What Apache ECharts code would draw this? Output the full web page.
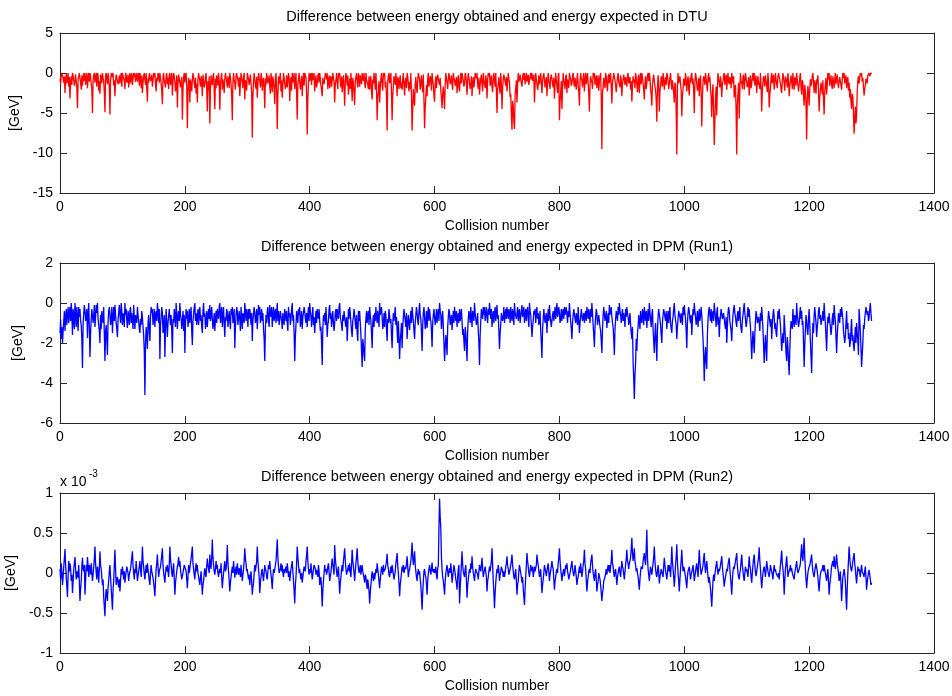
<!DOCTYPE html>
<html><head><meta charset="utf-8">
<script src="https://cdn.jsdelivr.net/npm/echarts@6/dist/echarts.min.js"></script>
<style>html,body{margin:0;padding:0;background:#fff}#c{width:952px;height:696px}</style>
</head><body><div id="c"></div>
<script>
// one value per collision number (0..1300)
const STEP = 1;
const titles = [
  'Difference between energy obtained and energy expected in DTU',
  'Difference between energy obtained and energy expected in DPM (Run1)',
  'Difference between energy obtained and energy expected in DPM (Run2)'
];
const xTicks = {min: 0, max: 1400, interval: 200};
const yTicks = [
  {min: -15, max: 5, interval: 5},
  {min: -6, max: 2, interval: 2},
  {min: -1, max: 1, interval: 0.5}
];
// DTU [GeV]
const dtu = [
-0.7,-1.4,-0.3,0,0,-0.6,-1.2,-0.4,-2.5,-1.0,0,-1.3,-0.8,0,-1.7,-0.5,-3.2,-1.1,-0.4,-1.5,0,-0.3,-0.9,-1.6,-1.1,-0.2,0,-1.9,-4.4,-0.8,-0.6,0,0,-1.2,-2.1,-0.3,-1.6,-0.7,0,-1.0,
0,-1.5,-0.8,0,-1.9,-0.6,0,-1.1,0,-0.4,-1.4,-2.0,-5.0,-0.9,-0.3,0,-1.2,-0.5,0,-1.7,0,-0.3,-2.2,-1.0,-2.6,-0.2,-0.5,-1.3,0,-0.6,-1.0,-2.4,-4.9,-0.3,0,-0.8,-1.4,0,-0.7,-1.8,
-5.2,-1.0,0,-0.5,-0.7,0,-1.6,-0.9,-2.9,-1.2,-0.2,0,0,-1.4,-1.1,-0.3,-1.3,-0.6,0,-1.7,0,-0.4,-0.6,-1.0,-2.0,0,-0.3,-1.2,-0.9,-0.2,-1.8,-0.7,0,-1.3,-0.4,0,-1.5,-0.8,0,-0.5,
0,-1.1,-0.5,0,-1.1,-0.4,0,-1.6,0,-0.7,-1.9,-0.3,-2.5,-1.2,-0.4,0,-0.8,-1.5,0,-1.9,-3.6,-0.6,-1.2,0,0,-1.0,-0.7,-0.2,-1.7,-0.9,0,-0.5,0,-1.4,-2.3,-0.6,-1.0,0,-0.3,-1.2,
0,-0.7,-1.3,-2.2,-3.9,-0.5,0,-1.0,-0.9,-1.8,-0.4,0,-1.4,-0.6,-2.0,-0.3,0,-1.5,-0.8,0,-2.8,-1.1,0,-0.4,-1.1,-2.3,-1.6,-0.3,-4.3,-1.2,-0.2,0,0,-1.8,-1.0,-0.5,-5.8,-2.1,-0.5,0,
-1.2,-0.3,0,-1.6,-6.9,-2.4,-0.6,-1.1,-3.7,-0.8,-1.5,-2.3,-0.8,0,0,-1.2,-1.9,-0.6,-2.6,-1.3,-3.7,-0.9,0,-0.5,-1.0,-1.7,-0.4,-0.9,-2.9,-0.2,-1.1,-1.8,-1.4,-0.5,0,-2.0,-4.8,-1.0,-2.2,-0.4,
-6.3,-2.0,-0.3,-1.2,-1.5,-0.4,0,-2.2,-4.5,-0.7,-1.9,-0.3,-0.9,-1.6,0,-1.0,-4.6,-1.4,-0.6,0,-2.1,-0.8,-1.3,-2.5,-0.7,0,0,-1.1,-1.8,-0.4,-0.9,-1.9,0,-0.6,-1.4,-2.8,-5.9,-1.2,0,-0.9,
-1.3,-2.1,-0.4,0,0,-1.0,-1.7,-0.5,-2.9,-1.3,0,-0.6,-1.1,-1.9,-0.5,0,-3.3,-0.9,-1.2,-2.2,0,-0.4,-0.8,-1.5,-1.6,-0.2,0,-2.4,-8.1,-3.0,-1.0,0,-0.8,-1.6,-2.0,-0.5,-3.1,-1.2,0,-0.7,
-1.0,-1.8,0,-0.5,-2.2,-1.0,-0.6,-2.0,-4.4,-0.7,-1.5,0,0,-1.3,-0.9,-0.3,-1.7,-2.6,0,-1.0,-2.4,-0.4,-1.1,-1.9,-3.9,-0.8,0,-2.1,-7.0,-2.8,-0.4,-1.4,-1.2,0,-2.3,-0.9,-3.1,-1.6,0,-0.6,
-0.7,-2.0,-1.4,-0.3,-1.8,-1.0,0,-0.6,-3.5,-1.3,-0.5,-2.2,0,-0.8,-1.2,0,-2.0,-1.1,0,-2.6,-5.8,-1.4,-0.8,0,-1.1,-2.1,-1.9,-0.4,-2.9,-1.0,0,-1.6,0,-0.3,-0.6,-2.4,-7.7,-3.2,-1.3,0,
-1.0,-0.4,0,-1.5,0,-0.9,-0.7,0,-2.3,-1.0,-0.3,-1.8,-1.3,-0.4,0,-1.2,0,-0.7,-1.6,-2.2,-2.9,-0.6,-0.5,-1.4,-1.5,0,0,-0.8,0,-2.0,-1.1,-0.3,-1.9,-0.8,-0.4,-1.7,-0.8,0,0,-1.2,
-3.7,-1.4,-0.9,0,-1.2,-2.0,0,-0.5,0,-1.1,-1.8,-0.4,-2.4,-1.2,-0.3,-1.9,-4.1,-1.0,0,-0.6,-1.6,-0.3,-2.7,-1.5,-0.7,-2.0,0,-1.3,-3.5,-0.6,-1.2,-2.5,-4.0,-1.1,-0.5,0,-1.1,-1.8,0,-0.6,
-1.7,-0.3,-0.5,-1.4,0,-0.6,-1.0,0,-1.2,-1.9,0,-0.8,-0.8,-1.5,-2.0,-0.4,-2.1,-1.0,-0.4,-2.4,-3.3,-0.8,-1.3,0,-0.9,-2.1,0,-1.6,-5.9,-3.0,-2.4,-1.0,-3.7,-1.8,-0.7,0,-1.4,-2.2,0,-0.5,
0,-1.8,-1.1,-3.0,-7.2,-1.2,-0.3,0,-1.3,-0.6,0,-2.5,-5.9,-2.8,-1.6,-0.4,-0.7,-1.5,0,-1.1,-2.9,-0.5,-0.8,-2.0,-1.0,-0.3,-1.9,-1.2,-2.1,-0.7,0,-1.5,-2.8,-1.0,-0.6,-1.9,0,-0.4,-1.4,-2.3,
-1.1,-2.0,0,-2.8,-7.2,-4.5,-2.0,-3.2,-4.1,-1.4,-0.5,-1.9,-2.5,-0.9,0,-0.4,-0.8,-2.1,-1.3,-0.3,-1.6,-2.4,-0.2,-3.4,-6.9,-4.2,-3.0,-1.5,-2.9,-0.8,0,-1.7,-1.2,-0.4,-0.7,-2.2,0,-0.9,-1.5,-2.8,
-3.6,-1.3,-0.4,-1.9,-0.7,-0.2,0,-1.2,-1.5,-0.6,-2.2,-3.1,-4.4,-2.6,-1.7,-3.0,-4.5,-1.4,0,-0.7,-1.2,-2.0,-0.6,0,0,-1.4,-1.0,-0.3,-1.5,-2.1,0,-0.6,-0.9,-1.6,-1.8,-0.5,-2.5,-1.1,-0.3,-1.8,
-2.3,-0.8,0,-1.3,0,-0.5,-0.9,-1.7,-1.4,0,-0.3,-1.2,-2.7,-1.0,0,-0.6,-0.8,-2.0,-1.5,-0.4,-2.9,-1.3,-0.5,-1.8,-1.1,0,0,-0.7,0,-1.4,-2.0,-0.6,-2.7,-1.5,-0.7,-0.2,-1.5,-2.3,0,-0.9,
-0.9,-1.9,-0.3,-1.1,-3.2,-0.8,0,-0.4,0,-1.6,-1.2,-0.3,-1.7,-2.4,-0.6,0,-1.0,-1.7,0,-2.2,-5.0,-2.0,-1.4,-0.5,-1.8,-2.6,0,-1.3,-4.5,-1.9,-0.8,-0.2,0,-1.1,-1.6,-0.5,-2.3,-1.2,0,-0.7,
-1.2,-3.0,-2.6,-5.2,-7.1,-3.5,-4.0,-6.2,-7.0,-2.8,-1.9,-0.9,-3.7,-1.5,0,-1.1,-0.8,-0.2,-0.4,-1.3,-1.7,-0.5,0,-0.9,0,-1.4,-0.9,0,-1.1,-0.6,-0.2,-1.5,-1.3,-0.4,0,-0.8,0,-1.0,-0.6,-0.2,
-3.7,-1.6,0,-0.7,-0.9,-2.1,-1.5,-0.3,-1.4,-0.8,0,-1.3,-2.5,-1.0,-0.4,0,0,-1.8,-1.1,-0.5,-2.9,-1.2,0,-0.8,-1.0,-2.0,-0.6,-0.2,-0.7,-1.4,-1.8,-0.6,-3.2,-1.5,0,-0.9,-1.6,-2.5,-0.3,0,
-5.9,-3.6,-2.4,-1.0,-4.5,-1.8,0,-0.9,-1.1,-2.0,-0.5,-0.2,-2.5,-0.8,-1.2,-1.9,0,-0.5,-0.8,-1.6,-1.3,-0.3,0,-1.2,-1.7,-0.6,-0.4,-2.1,-0.8,0,-1.5,-2.3,-4.1,-1.1,0,-0.7,-1.0,-1.8,-0.6,0,
-2.3,-1.0,0,-1.4,-0.7,0,-1.3,-2.6,-4.8,-1.5,-0.4,-0.9,-1.2,-2.0,0,-0.6,0,-1.5,-0.9,-0.3,-1.9,-1.1,-0.3,-2.2,-1.0,-0.4,0,-3.0,-9.5,-2.5,-1.7,-0.6,-0.8,-1.9,0,-0.4,-1.6,-2.3,-0.5,-0.1,
-1.3,-0.5,0,-1.7,-3.8,-1.2,-0.7,0,0,-0.9,-1.6,-2.4,-1.4,-0.5,0,-1.1,-0.9,-1.8,-0.3,-0.8,-2.9,-1.4,-1.2,-0.2,0,-1.5,-0.5,-0.9,-1.7,-0.4,0,-1.3,-1.1,-0.5,-2.1,-1.0,-3.6,-1.6,-0.4,-1.2,
-0.8,-1.9,0,-0.6,-1.5,-2.4,-0.6,-0.2,-2.5,-1.0,0,-1.4,0,-0.5,-1.3,-2.1,-3.3,-1.2,-0.4,-2.0,-1.2,-0.3,0,-1.0,0,-0.6,-1.9,-2.8,-4.1,-1.5,-0.7,-0.2,-1.0,-1.7,-2.2,-3.3,-6.1,-2.0,-0.3,-1.1,
-4.8,-2.3,-1.6,-0.4,-0.9,-1.7,0,-0.8,-2.1,-1.1,-0.5,-1.5,0,-0.3,-1.0,-2.0,-1.4,-0.6,0,-1.2,-2.1,-0.9,-0.8,-2.4,-3.7,-1.2,-1.5,-4.6,-10.2,-2.0,0,-1.3,-1.2,-0.4,-0.6,-2.2,-5.4,-2.9,-2.0,-0.7,
-0.8,-1.6,0,-0.9,-2.3,-1.1,-0.4,-1.9,-2.8,-0.6,-1.2,-0.3,0,-1.4,-0.7,-2.1,-5.0,-1.3,0,-0.5,-1.3,-2.2,-1.8,-0.6,-2.9,-1.0,-0.3,-2.5,-6.7,-3.1,-1.1,-0.4,-0.7,-1.5,0,-0.8,-1.5,-2.3,-0.5,0,
-1.1,-0.5,-2.0,-3.1,-5.5,-2.6,-1.4,-4.8,-9.0,-5.9,-3.2,-1.7,-5.3,-2.0,0,-0.7,-0.9,-1.8,-0.4,-1.2,-3.0,-1.4,-1.0,-0.3,0,-1.5,-0.6,-0.2,-2.1,-0.9,0,-1.1,-1.4,-0.5,-0.8,-1.9,0,-0.7,-1.3,-0.4,
-3.1,-1.8,-1.5,-4.7,-10.2,-3.9,-2.6,-1.2,-5.7,-2.2,0,-1.3,-1.0,-2.0,-0.5,-0.2,-2.1,-1.1,0,-0.6,-0.7,-1.8,-1.4,-0.5,-2.8,-1.3,-0.3,-1.9,-1.3,-0.6,0,-1.0,0,-1.6,-0.9,-0.3,-2.5,-1.2,-0.4,-1.5,
-1.2,-2.0,0,-1.6,-4.8,-2.2,-1.1,-0.4,-0.8,-1.7,-0.3,-1.0,-1.6,-2.4,0,-1.1,-4.3,-2.7,-1.9,-0.6,0,-1.3,-0.7,-0.2,-2.1,-1.4,0,-0.8,-1.0,-1.9,-0.5,0,0,-0.9,-1.3,-2.1,-2.5,-1.0,0,-0.6,
-1.3,-2.2,-0.4,-1.1,-0.7,-1.8,0,-0.9,-2.9,-1.6,-1.0,-0.3,-1.1,-2.0,0,-1.2,-2.1,-0.5,-0.6,-1.6,0,-0.8,-1.5,-2.3,-1.4,-0.6,0,-1.8,-2.7,-0.9,-1.2,-2.8,-4.1,-1.5,-2.3,-3.8,-8.3,-3.4,-1.6,-2.5,
-4.1,-2.0,-0.8,-1.6,-1.2,-0.4,0,-1.3,-2.5,-0.9,-1.7,-2.6,-0.8,-1.4,-0.3,-2.2,-4.8,-3.0,-2.1,-1.2,-1.9,-2.7,-0.9,-3.3,-5.2,-2.4,-1.4,-0.6,-2.7,-1.5,0,-0.8,0,-1.6,-1.0,-0.3,-1.5,-2.0,-0.4,-1.1,
-1.9,-0.8,0,-1.4,-0.7,-0.2,-1.2,-1.9,-1.1,-0.5,-0.3,-1.5,-2.1,-0.9,0,-0.6,0,-1.3,-0.8,-0.3,-1.9,-1.0,-0.5,-2.2,-1.2,-3.1,-2.0,-3.6,-4.5,-2.6,-3.0,-5.1,-7.6,-5.8,-4.2,-6.3,-5.3,-2.4,-1.0,-0.4,
-1.3,-0.6,0,-0.4,0,-1.1,-0.6,-1.7,-2.8,-2.0,-1.5,-0.7,-0.9,-1.3,-0.3,-0.1,0,-0.4,-0.2,0,-0.1
];
// DPM Run1 [GeV]
const dpm1 = [
-1.5,-0.8,-1.8,-1.2,-2.0,-1.4,-0.9,-0.4,-1.4,-0.7,-0.3,-1.1,-0.6,-0.2,-1.0,-0.5,-0.2,-0.9,0,-0.6,-1.6,-0.3,-0.7,-1.3,0,-0.5,-1.2,-0.2,-0.8,-1.4,-0.2,-0.7,-0.3,-0.9,-1.1,-1.8,-3.25,-1.0,-0.5,-0.1,
-0.4,-0.9,-1.0,-0.3,-1.75,-0.6,0,-1.2,-2.7,-1.5,-0.8,-0.3,-0.2,-1.0,-0.6,-0.1,-1.2,-0.7,-0.1,-0.5,0,-0.8,-0.9,-1.4,-2.0,-0.6,-1.3,-0.4,-0.5,-1.0,-0.2,-1.6,-2.9,-1.4,-1.1,-1.9,-2.6,-0.9,-0.4,-0.2,
-0.3,-1.1,-0.8,-0.2,-1.5,-0.7,-0.2,-0.9,-0.1,-0.6,-1.0,-1.3,-1.7,-0.8,-0.5,-0.1,-0.6,-1.0,0,-0.4,-1.1,-0.5,-0.7,-1.2,0,-0.6,-0.3,-0.9,-1.25,-0.4,-0.6,-1.1,-0.4,-0.2,-1.0,-0.5,-0.9,-1.3,-0.1,-0.7,
-1.3,-0.6,-0.5,-1.0,-0.2,-0.6,-0.9,-1.3,-1.5,-0.8,-1.1,-0.4,-0.7,-1.2,-1.6,-2.4,-4.6,-2.0,-1.2,-1.7,-2.3,-1.0,-0.6,-1.4,-1.9,-0.7,-0.2,-0.5,-0.3,-1.1,-0.8,-0.3,-1.2,-0.6,-0.4,-0.9,0,-0.4,-1.0,-0.3,
-2.8,-1.1,-0.7,-0.2,-0.5,-1.5,-1.2,-0.6,-2.7,-1.3,-0.3,-0.9,-1.7,-1.0,-0.9,-0.3,-0.2,-1.1,-0.6,-1.4,-2.5,-0.8,-1.0,-0.3,-0.6,-1.2,0,-0.5,-1.3,-0.7,-0.4,-0.9,0,-0.6,-0.8,-1.3,-0.9,-0.4,-1.4,-0.6,
-2.5,-1.0,-0.3,-0.8,-0.4,-1.2,-0.9,-0.3,-1.0,-0.6,-0.2,-1.4,-2.1,-0.9,-0.8,-0.2,0,-0.9,-0.5,-1.1,-0.7,-0.3,-1.1,-0.5,-0.2,-0.9,-0.6,-1.2,-1.5,-0.4,0,-0.7,-0.5,-1.3,-1.0,-0.4,-1.2,-0.7,-0.3,-0.8,
-0.1,-0.9,-0.6,-0.2,-0.8,-1.3,-1.0,-0.5,-1.4,-0.8,-0.4,-1.0,-0.3,-0.6,-0.8,-0.2,0,-1.0,-0.5,-0.2,-1.2,-0.6,-0.2,-1.1,-1.7,-0.7,-0.9,-0.3,-0.5,-1.2,-1.1,-0.4,-0.9,-1.3,-0.3,-0.6,-0.2,-1.0,-0.7,-0.3,
-2.25,-1.2,-0.6,-0.2,-0.4,-1.1,-1.0,-0.4,-0.8,-1.4,-0.2,-0.7,-1.3,-0.5,-0.7,-1.0,0,-0.4,-0.9,-0.3,-0.6,-1.2,-0.3,-0.8,-0.3,-0.6,-1.1,-0.5,-1.9,-0.9,-0.5,-0.2,-0.5,-1.0,-0.8,-0.3,-1.3,-0.7,-0.1,-0.6,
-0.2,-1.0,-0.7,-0.3,-0.9,-0.5,-1.3,-1.8,-2.9,-1.3,-0.6,-1.0,-0.4,-0.2,-0.9,-1.2,-0.1,-0.7,-0.5,-0.2,-1.2,-0.6,-0.2,-0.9,-0.6,-0.3,-1.0,-0.5,0,-0.9,-0.4,-1.1,-0.8,-0.4,-0.3,-0.9,-1.3,-0.5,-0.8,-1.1,
-0.3,-0.6,-0.9,-0.4,-1.0,-1.4,-0.2,-0.7,-0.5,-1.1,-0.8,-0.3,0,-0.9,-0.6,-1.5,-2.9,-1.7,-1.1,-0.4,-0.7,-1.0,-0.3,-0.6,-0.2,-1.2,-0.9,-0.4,-1.3,-0.7,-0.5,-0.2,-0.4,-0.8,-1.0,-0.5,-1.2,-0.6,-0.2,-0.9,
0,-0.4,-0.7,-1.2,-0.6,-0.2,-1.1,-0.7,-1.5,-0.9,-0.4,-1.0,-0.3,-0.6,-0.8,-0.3,-0.9,-1.4,-1.2,-2.0,-3.1,-1.3,-0.6,-0.9,-0.5,-1.1,-0.2,-0.8,-1.7,-1.1,-0.9,-0.3,-0.1,-0.8,-0.5,-1.2,-0.8,-0.4,-1.0,-1.4,
-1.0,-0.5,-0.3,-0.9,-0.3,-0.6,-0.8,-0.2,0,-0.7,-0.6,-1.1,-1.4,-0.6,-0.9,-0.4,-0.5,-1.0,-1.2,-0.7,-1.9,-1.2,-0.3,-0.8,-0.2,-0.5,-1.0,-1.4,-1.7,-0.9,-0.7,-0.3,-0.6,-1.0,-1.3,-0.6,-1.5,-1.9,-0.4,-0.9,
-0.4,-1.0,-1.6,-2.4,-3.2,-1.8,-2.1,-2.6,-2.9,-1.3,-0.8,-0.4,-1.0,-0.6,-0.4,-1.1,-0.2,-0.6,-0.9,-1.5,-2.25,-1.0,-0.6,-1.2,-0.5,-0.9,-0.2,-0.7,-1.0,-0.4,-0.7,-1.2,0,-0.6,-0.5,-0.2,-0.7,-1.3,-1.1,-0.5,
-1.2,-0.4,-0.6,-1.3,-1.9,-0.8,-1.0,-0.3,-0.3,-1.0,-0.8,-1.6,-2.25,-1.1,-0.5,-0.9,-0.6,-0.2,-1.1,-0.7,-1.4,-2.0,-0.9,-1.7,-2.8,-1.9,-1.5,-1.0,-2.25,-1.2,-0.7,-0.3,-0.4,-0.9,-1.2,-0.5,-1.8,-1.1,-0.6,-1.0,
-1.35,-0.8,-0.4,-1.0,-0.2,-0.6,-0.9,-1.4,-1.8,-1.0,-0.6,-0.2,-0.5,-0.9,-1.1,-0.4,0,-0.6,-0.8,-1.5,-2.4,-1.1,-0.5,-0.2,-0.7,-1.3,-1.0,-0.4,-1.25,-0.6,-0.2,-0.9,-0.3,-0.7,-0.9,-1.4,-2.2,-1.0,-0.6,-0.3,
-0.4,-1.1,-0.8,-0.3,-1.0,-0.5,-0.3,-0.9,0,-0.4,-0.6,-1.3,-0.8,-0.4,-1.2,-2.0,-2.9,-2.2,-1.6,-2.0,-2.6,-1.2,-0.7,-0.3,-0.5,-1.1,-1.0,-0.6,-1.35,-0.8,-0.4,-1.0,-0.2,-0.6,-0.9,-0.4,-1.2,-0.7,-0.5,-1.0,
-0.3,-0.9,-0.7,-0.3,-0.9,-1.6,-1.3,-1.9,-2.4,-1.2,-1.5,-2.2,-2.9,-1.4,-0.8,-0.4,-0.6,-1.0,-0.2,-0.7,-1.2,-0.4,-0.5,-0.9,0,-0.5,-0.6,-1.1,-0.9,-0.5,-1.4,-2.0,-3.1,-1.6,-0.9,-0.3,-0.4,-0.8,-0.2,-0.6,
-0.2,-0.9,-0.6,-0.2,-0.7,-1.0,-0.3,-0.6,0,-0.4,-0.8,-0.3,-1.2,-0.7,-0.4,-1.0,-0.5,-0.2,-0.9,-0.5,-0.1,-0.8,-0.6,-1.4,-2.3,-1.5,-1.1,-0.5,-0.4,-0.9,-0.7,-0.2,-1.0,-0.6,-0.3,-0.8,-0.2,-0.5,-0.8,-0.3,
-0.5,-1.0,-0.2,-0.6,-0.9,-0.3,-0.6,-1.1,0,-0.5,-0.4,-0.8,-0.7,-0.2,-0.9,-0.5,-0.3,-1.0,-0.7,-0.4,-0.1,-0.7,-0.5,-0.2,-1.0,-0.6,-0.3,-0.9,-0.4,-0.2,-0.8,-1.2,0,-0.4,-0.6,-1.1,-1.7,-1.2,-0.9,-0.4,
-0.6,-0.3,-1.0,-0.5,-0.2,-0.8,-0.5,-1.1,-0.9,-0.4,-1.4,-2.0,-2.75,-1.3,-0.8,-0.3,-0.4,-1.0,-0.9,-0.5,-1.5,-0.8,-0.3,-0.9,-0.1,-0.6,-0.7,-1.2,-1.2,-0.6,-0.4,-0.9,-0.6,-0.2,-0.8,-0.4,0,-0.7,-0.5,-0.2,
-0.5,-1.0,-0.8,-0.3,-0.9,-0.5,-0.3,-0.8,-0.2,-0.6,-0.7,-0.2,-0.6,-1.0,-0.4,-0.7,0,-0.5,-0.9,-1.3,-1.8,-1.0,-0.6,-0.3,-0.4,-0.8,-1.0,-0.5,-0.8,-1.1,-0.2,-0.8,-1.5,-1.0,-0.7,-0.3,-0.3,-0.9,-0.9,-0.5,
-1.0,-0.6,-0.4,-0.9,-0.2,-0.5,-0.8,-0.3,-0.6,-1.0,-0.3,-0.7,0,-0.5,-1.1,-1.6,-2.2,-1.2,-0.7,-0.3,-0.5,-1.1,-1.0,-0.6,-0.9,-1.2,-1.4,-1.9,-2.5,-1.3,-0.6,-0.2,-0.3,-0.9,-0.8,-0.4,-1.25,-0.8,-0.5,-1.0,
-0.1,-0.6,-0.5,-0.2,-0.7,-1.0,-1.2,-1.8,-2.6,-1.3,-0.8,-0.4,-0.4,-0.9,-0.2,-0.6,0,-0.4,-0.6,-1.0,-0.6,-0.3,-0.9,-0.5,-0.8,-1.2,-0.3,-0.7,-0.2,-0.5,-0.7,-1.1,-0.9,-0.5,-1.1,-1.5,-1.8,-1.2,-2.9,-3.8,
-4.8,-3.6,-3.0,-1.8,-2.4,-1.5,-1.2,-0.6,-0.9,-1.3,-0.4,-0.8,-1.0,-0.3,-0.6,-1.1,-0.2,-0.6,-0.9,-0.4,-1.25,-0.7,-0.3,-0.9,0,-0.5,-0.8,-1.2,-0.6,-0.3,-1.3,-1.9,-2.5,-1.6,-1.0,-2.0,-2.9,-1.4,-0.7,-0.3,
-0.4,-0.8,-1.1,-1.6,-2.0,-1.0,-0.6,-0.3,-0.2,-0.7,-0.9,-0.4,-1.3,-0.8,-0.4,-1.0,-0.5,-0.2,-1.0,-1.3,-1.5,-0.9,-0.7,-0.3,0,-0.6,-0.5,-1.1,-1.8,-1.2,-0.8,-0.4,-0.3,-0.7,-1.0,-0.5,-0.7,-1.1,-0.2,-0.6,
-0.1,-0.5,-0.8,-1.4,-2.25,-1.0,-0.5,-0.2,-0.4,-0.8,-1.0,-0.6,-1.6,-0.9,-0.3,-0.6,0,-0.4,-0.7,-1.1,-0.8,-0.4,-1.2,-0.7,-0.3,-0.9,-0.6,-0.2,-0.6,-1.2,-1.8,-2.6,-3.9,-2.8,-2.2,-2.9,-3.3,-1.6,-0.8,-0.4,
-0.2,-0.6,-0.9,-0.3,-1.0,-0.6,-0.4,-0.9,0,-0.4,-0.7,-1.2,-0.5,-0.2,-1.1,-0.7,-1.7,-1.0,-0.6,-0.3,-0.3,-0.8,-0.9,-0.5,-0.8,-1.1,-1.3,-0.7,-2.0,-1.2,-0.5,-0.2,-0.4,-0.9,-1.0,-1.4,-1.9,-1.1,-0.6,-0.3,
-0.1,-0.5,-0.7,-1.0,-1.2,-0.6,-0.4,-0.9,-0.5,-0.2,-1.0,-1.3,-1.5,-0.9,-0.6,-0.3,0,-0.5,-0.8,-1.2,-1.0,-0.6,-0.2,-0.7,-0.3,-0.8,-1.2,-1.9,-2.8,-2.0,-1.4,-1.9,-2.5,-1.6,-0.9,-0.4,-0.6,-1.0,-1.1,-0.7,
-1.0,-1.4,-0.5,-0.9,-0.2,-0.7,-1.3,-2.1,-3.0,-2.2,-1.6,-2.3,-2.9,-1.5,-0.9,-0.4,-0.5,-0.9,-1.2,-0.8,-1.8,-1.1,-0.6,-0.3,-0.7,-1.3,-1.0,-1.5,-1.7,-1.0,-0.4,-0.8,-0.3,-0.7,-1.1,-1.7,-2.4,-1.9,-1.5,-2.0,
-0.6,-1.2,-1.8,-2.5,-2.9,-1.7,-2.2,-3.0,-3.6,-2.4,-1.4,-0.9,-0.8,-1.3,-0.3,-0.8,-1.2,-0.6,-0.7,-1.1,0,-0.6,-0.5,-1.2,-1.0,-0.5,-0.2,-0.8,-0.4,-1.1,-0.9,-2.0,-3.2,-2.1,-1.3,-0.6,-0.9,-1.4,-1.6,-0.8,
-0.3,-1.0,-1.9,-2.7,-3.5,-2.0,-1.0,-1.5,-0.6,-0.2,-0.3,-1.0,-1.7,-1.2,-0.9,-0.4,-0.2,-0.8,-0.6,-1.1,-1.2,-0.7,-0.4,-0.9,0,-0.6,-1.0,-1.7,-2.4,-1.3,-0.7,-1.0,-0.5,-0.9,-1.2,-1.6,-1.3,-0.8,-0.5,-1.1,
-0.1,-0.6,-0.9,-1.7,-2.5,-1.6,-1.1,-0.5,-0.6,-1.0,-0.3,-0.7,-0.2,-0.5,-0.8,-1.4,-1.3,-2.0,-1.7,-1.0,-0.4,-1.3,-1.0,-1.8,-1.5,-2.2,-2.0,-1.3,-0.8,-1.9,-1.6,-2.1,-2.4,-1.8,-1.2,-2.0,-1.0,-1.5,-1.9,-2.6,
-0.3,-0.8,-1.4,-2.2,-3.2,-2.6,-2.0,-1.1,-1.3,-0.8,-0.5,-0.2,-0.2,-0.6,-0.4,-0.9,-0.75,-0.3,0,-0.5,-0.9
];
// DPM Run2 [GeV x 10^-3]
const dpm2 = [
0.05,-0.08,0.12,0.0,-0.15,-0.05,0.08,0.18,0.3,0.1,-0.05,-0.18,-0.3,-0.02,0.15,0.02,0.12,0.05,-0.1,-0.02,-0.25,-0.1,0.05,0.12,0.2,0.05,-0.08,0.02,0.02,-0.06,0.1,-0.12,-0.35,-0.2,-0.1,0.08,0.19,0.05,0.02,0.1,
-0.27,-0.1,0.1,0.02,0.2,0.08,-0.05,0.1,0.05,-0.02,0.12,0.0,-0.1,-0.02,0.08,0.18,0.33,0.12,0.0,-0.08,0.08,0.02,-0.12,0.05,0.27,0.1,0.05,-0.05,-0.15,-0.08,-0.3,-0.42,-0.54,-0.3,-0.2,-0.28,-0.35,-0.18,-0.1,0.02,
0.1,-0.05,-0.2,-0.32,-0.46,-0.2,-0.1,0.1,0.29,0.05,-0.15,-0.08,-0.05,-0.12,-0.18,-0.08,-0.23,-0.1,0.05,-0.02,0.08,0.0,-0.08,0.02,-0.12,-0.05,0.02,0.08,0.1,0.0,-0.1,-0.02,-0.02,0.05,0.12,0.2,0.27,0.1,0.0,-0.08,
0.05,0.0,0.15,0.02,-0.1,-0.04,0.02,0.08,0.15,0.05,-0.05,0.12,0.33,0.15,0.08,-0.02,-0.08,0.02,0.1,0.0,0.12,0.05,-0.02,-0.1,-0.15,0.0,0.1,0.02,0.0,-0.06,-0.12,-0.2,-0.29,-0.1,0.05,0.12,0.23,0.08,-0.05,0.02,
0.02,0.08,0.15,0.22,0.31,0.1,0.0,-0.06,-0.12,0.0,0.08,0.02,0.1,0.02,-0.05,0.1,0.33,0.18,0.1,0.0,-0.05,0.05,0.12,-0.08,-0.27,-0.12,-0.05,0.02,0.08,0.12,0.2,0.08,0.15,0.05,-0.02,-0.08,-0.1,0.0,0.05,0.1,
0.12,0.05,0.02,-0.08,-0.19,-0.05,0.1,0.0,0.05,0.12,0.18,0.25,0.33,0.12,0.05,-0.02,-0.08,0.05,0.12,0.02,0.1,0.0,-0.05,-0.1,-0.15,-0.05,0.02,-0.12,-0.27,-0.15,-0.1,0.0,0.06,-0.02,-0.05,0.08,0.18,0.1,0.08,0.0,
0.23,0.1,0.05,0.2,0.42,0.2,0.1,0.02,-0.02,0.05,0.15,0.05,0.1,0.0,-0.05,0.02,0.05,0.0,0.12,-0.05,-0.19,-0.08,0.0,0.08,0.15,0.02,0.05,0.15,0.35,0.12,0.02,-0.1,-0.23,-0.12,-0.05,0.02,0.08,0.0,0.15,0.05,
-0.06,0.02,0.08,-0.02,0.12,0.05,-0.02,0.06,0.02,-0.05,0.1,0.0,-0.1,-0.02,0.05,0.15,0.31,0.18,0.12,0.02,0.05,-0.02,-0.08,-0.02,-0.15,-0.05,0.02,-0.1,-0.27,-0.18,-0.12,0.0,0.1,0.02,0.0,0.15,0.33,0.15,0.05,-0.05,
-0.25,-0.12,-0.05,0.02,0.05,-0.04,-0.1,0.0,0.1,0.05,0.02,-0.05,-0.08,0.02,0.1,0.05,0.15,0.05,-0.02,-0.1,-0.2,-0.05,0.05,0.0,0.04,0.1,0.15,0.28,0.42,0.2,0.08,0.0,-0.02,0.05,0.12,0.02,0.1,0.0,-0.05,0.05,
0.0,0.05,0.08,0.0,0.12,0.05,-0.05,0.02,-0.1,-0.02,0.05,0.1,0.15,0.02,-0.1,-0.22,-0.38,-0.15,-0.05,0.12,0.33,0.2,0.1,0.0,0.05,-0.02,-0.08,0.0,-0.12,-0.05,0.02,0.08,0.1,0.02,0.15,0.22,0.33,0.15,0.05,-0.02,
0.05,0.0,0.12,0.02,-0.08,-0.02,0.05,0.1,0.12,0.05,-0.02,0.04,0.0,-0.05,0.1,0.02,-0.15,-0.08,-0.05,-0.2,-0.42,-0.22,-0.1,0.0,0.1,0.02,0.05,-0.02,0.02,0.08,0.12,0.02,-0.1,-0.04,0.0,0.1,0.18,0.1,0.05,-0.02,
0.35,0.18,0.1,0.02,-0.05,0.02,0.08,-0.1,-0.26,-0.12,-0.05,0.05,0.1,0.02,0.15,0.22,0.31,0.15,0.05,-0.02,-0.02,0.05,0.1,0.02,0.12,0.0,-0.05,0.1,0.29,0.15,0.08,0.0,-0.1,0.02,0.12,0.2,0.31,0.15,0.05,0.0,
0.05,0.1,-0.02,0.05,0.1,0.02,0.0,-0.06,-0.12,-0.02,-0.05,-0.12,-0.2,-0.08,-0.1,-0.22,-0.38,-0.25,-0.15,-0.05,0.02,-0.05,-0.1,0.0,-0.08,-0.02,0.05,0.0,0.12,0.05,-0.02,-0.1,-0.19,-0.08,0.0,0.08,0.05,-0.02,0.1,0.02,
0.02,0.05,0.1,0.15,0.24,0.1,0.05,-0.02,-0.05,0.02,0.08,0.0,0.1,0.04,-0.02,-0.08,-0.1,0.02,0.12,0.18,0.25,0.1,0.0,-0.12,-0.29,-0.15,-0.08,0.0,0.08,0.02,0.1,0.0,-0.02,0.08,0.05,0.12,0.21,0.08,-0.05,0.02,
0.05,0.1,0.15,0.25,0.38,0.2,0.1,0.18,0.27,0.1,0.02,-0.05,-0.1,0.0,0.05,-0.02,0.02,-0.08,-0.15,-0.3,-0.46,-0.25,-0.1,0.02,0.05,-0.02,-0.05,-0.15,-0.27,-0.1,0.0,0.05,0.1,0.02,-0.02,0.05,0.13,0.02,0.05,0.0,
0.05,0.0,0.08,-0.02,-0.08,0.05,0.1,0.55,0.93,0.7,0.56,0.2,0.05,-0.05,-0.1,-0.18,-0.27,-0.1,0.0,0.05,0.1,0.02,-0.05,0.02,0.06,0.0,0.12,0.02,-0.12,-0.05,0.02,0.1,0.08,0.0,-0.08,-0.12,-0.21,-0.05,0.05,0.1,
-0.38,-0.2,-0.05,0.12,0.27,0.1,0.02,-0.02,-0.05,0.05,0.1,-0.1,-0.31,-0.15,-0.08,0.0,0.05,0.0,0.12,0.05,0.21,0.08,0.0,-0.05,-0.1,0.0,0.05,0.02,0.0,-0.02,-0.08,0.02,0.1,0.05,0.02,0.1,0.19,0.05,-0.05,0.0,
0.02,0.08,0.1,-0.05,-0.23,-0.1,-0.05,0.02,0.08,0.02,0.0,0.15,0.31,0.1,-0.1,-0.25,-0.44,-0.25,-0.12,-0.02,0.05,0.0,0.1,0.02,-0.1,-0.02,0.02,0.08,0.1,0.02,-0.05,0.02,-0.05,0.0,0.08,0.12,0.21,0.1,0.05,-0.02,
0.0,0.05,0.1,0.15,0.23,0.1,0.02,-0.05,-0.08,0.0,0.05,-0.1,-0.27,-0.15,-0.1,0.02,0.1,0.05,0.0,-0.05,-0.12,-0.05,-0.2,-0.3,-0.4,-0.2,-0.05,0.1,0.25,0.15,0.08,0.0,-0.05,0.02,0.1,0.05,0.02,0.08,-0.05,0.0,
0.08,0.02,0.0,0.1,0.23,0.15,0.1,0.02,-0.05,0.0,0.05,-0.1,-0.25,-0.15,-0.08,0.0,0.1,0.05,0.02,-0.04,0.02,0.08,0.12,0.02,-0.1,-0.02,0.0,0.08,0.15,0.08,0.05,-0.08,-0.21,-0.1,-0.05,0.02,0.05,0.0,0.12,0.2,
0.31,0.15,0.05,-0.02,-0.1,-0.02,0.02,0.05,-0.04,0.02,0.1,0.05,0.12,0.02,-0.02,-0.08,-0.08,0.0,0.05,0.1,0.15,0.05,0.0,-0.04,0.02,0.1,0.08,-0.05,-0.15,-0.08,-0.05,0.02,0.08,0.0,0.12,0.02,-0.05,0.02,0.1,0.15,
0.29,0.12,0.05,-0.1,-0.23,-0.12,-0.05,0.02,0.05,0.0,0.12,0.18,0.23,0.1,0.0,-0.05,-0.1,0.0,0.05,-0.08,-0.23,-0.15,-0.1,0.0,0.02,-0.08,-0.15,-0.25,-0.35,-0.25,-0.2,-0.1,-0.12,-0.05,0.0,0.05,-0.02,0.05,0.1,0.02,
0.1,0.0,0.02,0.15,0.29,0.12,0.08,0.0,-0.05,0.02,0.05,-0.05,-0.15,-0.05,0.0,0.05,0.08,0.0,-0.05,0.05,0.15,0.08,0.05,-0.02,-0.08,0.02,0.1,0.18,0.29,0.15,0.12,0.05,0.12,0.15,0.2,0.3,0.44,0.25,0.15,0.22,
0.31,0.15,0.1,0.02,0.06,0.0,-0.05,-0.12,-0.21,-0.08,0.02,0.08,0.1,0.05,0.15,0.2,0.25,0.15,0.1,0.3,0.54,0.2,0.05,-0.02,-0.1,0.0,0.08,0.02,-0.02,0.05,0.12,0.2,0.33,0.15,0.05,-0.02,-0.05,0.02,0.1,0.02,
-0.13,-0.05,0.0,0.05,0.05,-0.02,-0.05,0.08,0.19,0.1,0.02,-0.02,-0.08,0.0,0.1,0.02,0.1,0.05,-0.05,0.12,0.33,0.15,0.05,-0.05,-0.17,-0.05,0.1,0.2,0.36,0.15,0.0,-0.1,-0.23,-0.08,0.05,0.15,0.29,0.12,0.02,0.08,
0.05,0.0,-0.05,-0.12,-0.19,-0.05,0.02,0.05,0.08,0.0,-0.08,-0.02,0.0,0.05,0.1,0.02,-0.1,-0.04,0.02,0.08,0.12,0.02,-0.05,0.12,0.29,0.15,0.05,-0.02,0.02,0.05,0.1,0.18,0.25,0.1,0.0,0.08,0.15,0.05,-0.05,-0.12,
-0.05,-0.12,-0.2,-0.3,-0.42,-0.25,-0.1,-0.02,-0.1,-0.02,0.05,0.1,0.15,0.05,-0.02,0.05,0.02,0.05,0.1,0.15,0.21,0.08,0.0,-0.08,-0.17,-0.1,-0.05,0.0,0.05,0.02,0.1,0.15,0.19,0.05,-0.05,-0.15,-0.27,-0.1,0.02,0.08,
0.05,0.1,0.12,0.2,0.25,0.1,0.0,-0.05,-0.08,0.0,0.05,0.15,0.23,0.1,0.02,-0.05,-0.1,0.0,0.08,0.02,0.05,0.0,-0.05,0.08,0.21,0.1,0.05,-0.05,-0.12,0.0,0.1,0.18,0.23,0.1,0.0,-0.04,0.02,0.08,0.1,0.2,
0.32,0.15,0.05,-0.08,-0.19,-0.08,0.0,0.05,0.08,0.02,-0.05,0.05,0.15,0.08,0.02,0.0,-0.05,0.02,0.1,0.05,0.02,-0.02,-0.08,0.02,0.1,0.02,0.05,0.0,0.02,-0.02,-0.05,0.0,-0.08,0.02,0.1,0.18,0.28,0.12,0.05,-0.05,
-0.27,-0.1,0.05,0.12,0.21,0.08,-0.05,0.0,0.0,0.05,0.1,0.02,0.06,0.0,-0.02,-0.05,-0.08,0.0,0.05,0.1,0.15,0.05,0.0,0.02,0.05,0.08,0.12,0.25,0.36,0.2,0.15,0.3,0.44,0.2,0.05,-0.08,-0.19,-0.08,0.0,0.05,
0.05,0.1,0.12,0.18,0.23,0.1,0.02,-0.02,-0.05,0.02,0.08,0.12,0.13,0.02,-0.05,-0.15,-0.23,-0.1,-0.02,0.02,0.02,0.05,0.1,0.02,0.1,0.04,0.0,-0.05,-0.1,-0.02,0.05,-0.1,-0.27,-0.15,-0.08,0.0,0.08,0.12,0.15,0.08,
0.21,0.1,0.05,0.15,0.23,0.12,0.1,0.0,-0.1,-0.05,0.02,-0.15,-0.35,-0.2,-0.05,0.0,0.05,-0.02,-0.1,-0.3,-0.46,-0.2,0.0,0.15,0.33,0.2,0.1,0.05,0.02,0.08,0.15,0.2,0.25,0.12,0.05,-0.05,-0.13,-0.02,0.08,0.02,
0.05,0.0,-0.05,0.05,0.1,0.02,0.0,-0.02,-0.05,0.02,0.08,-0.05,-0.21,-0.12,-0.05,0.0,0.04,-0.02,-0.08,-0.15,-0.12
];
const seriesData = [dtu, dpm1, dpm2];
const colors = ['#ff0000', '#0000ff', '#0000ff'];
const yName = '[GeV]';
const xName = 'Collision number';

const FONT = 'Liberation Sans, Arial, Helvetica, sans-serif';
const AX = '#262626';
const tops = [33, 263, 493];
const H = 160, LEFT = 60, RIGHT = 18;

const grid = [], xAxis = [], yAxis = [], series = [], graphic = [];
tops.forEach((t, k) => {
  grid.push({left: LEFT, right: RIGHT, top: t, height: H, containLabel: false, outerBoundsMode: 'none'});
  const axLine = {show: true, onZero: false, lineStyle: {color: AX, width: 1}};
  const tick = {show: true, inside: true, length: 7, lineStyle: {color: AX}};
  const lbl = {color: '#000', fontFamily: FONT, fontSize: 14, formatter: v => String(v)};
  const nameStyle = {color: '#000', fontFamily: FONT, fontSize: 14};
  xAxis.push({type: 'value', gridIndex: k, position: 'bottom', min: xTicks.min, max: xTicks.max, interval: xTicks.interval,
    axisLine: axLine, axisTick: tick, axisLabel: Object.assign({margin: 7}, lbl), splitLine: {show: false},
    name: xName, nameLocation: 'middle', nameGap: 26, nameTextStyle: nameStyle});
  xAxis.push({type: 'value', gridIndex: k, position: 'top', min: xTicks.min, max: xTicks.max, interval: xTicks.interval,
    axisLine: axLine, axisTick: tick, axisLabel: {show: false}, splitLine: {show: false}});
  yAxis.push({type: 'value', gridIndex: k, position: 'left', min: yTicks[k].min, max: yTicks[k].max, interval: yTicks[k].interval,
    axisLine: axLine, axisTick: tick, axisLabel: Object.assign({margin: 7}, lbl), splitLine: {show: false},
    name: yName, nameLocation: 'middle', nameGap: 35, nameRotate: 90, nameTextStyle: nameStyle});
  yAxis.push({type: 'value', gridIndex: k, position: 'right', min: yTicks[k].min, max: yTicks[k].max, interval: yTicks[k].interval,
    axisLine: axLine, axisTick: tick, axisLabel: {show: false}, splitLine: {show: false}});
  series.push({type: 'line', xAxisIndex: 2 * k, yAxisIndex: 2 * k, showSymbol: false, symbol: 'none',
    data: seriesData[k].map((v, i) => [i * STEP, v]),
    lineStyle: {color: colors[k], width: 1.3}, itemStyle: {color: colors[k]}, silent: true, clip: true});
  graphic.push({type: 'text', x: LEFT + (952 - LEFT - RIGHT) / 2, y: t - 16,
    style: {text: titles[k], font: '14.5px ' + FONT, fill: '#000', align: 'center', verticalAlign: 'middle'}});
});
graphic.push({type: 'text', x: 60, y: 482, style: {text: 'x 10', font: '14px ' + FONT, fill: '#000', align: 'left', verticalAlign: 'middle'}});
graphic.push({type: 'text', x: 89, y: 474, style: {text: '-3', font: '10px ' + FONT, fill: '#000', align: 'left', verticalAlign: 'middle'}});

const chart = echarts.init(document.getElementById('c'), null, {renderer: 'canvas'});
chart.setOption({animation: false, backgroundColor: '#fff', grid, xAxis, yAxis, series, graphic});
</script></body></html>
